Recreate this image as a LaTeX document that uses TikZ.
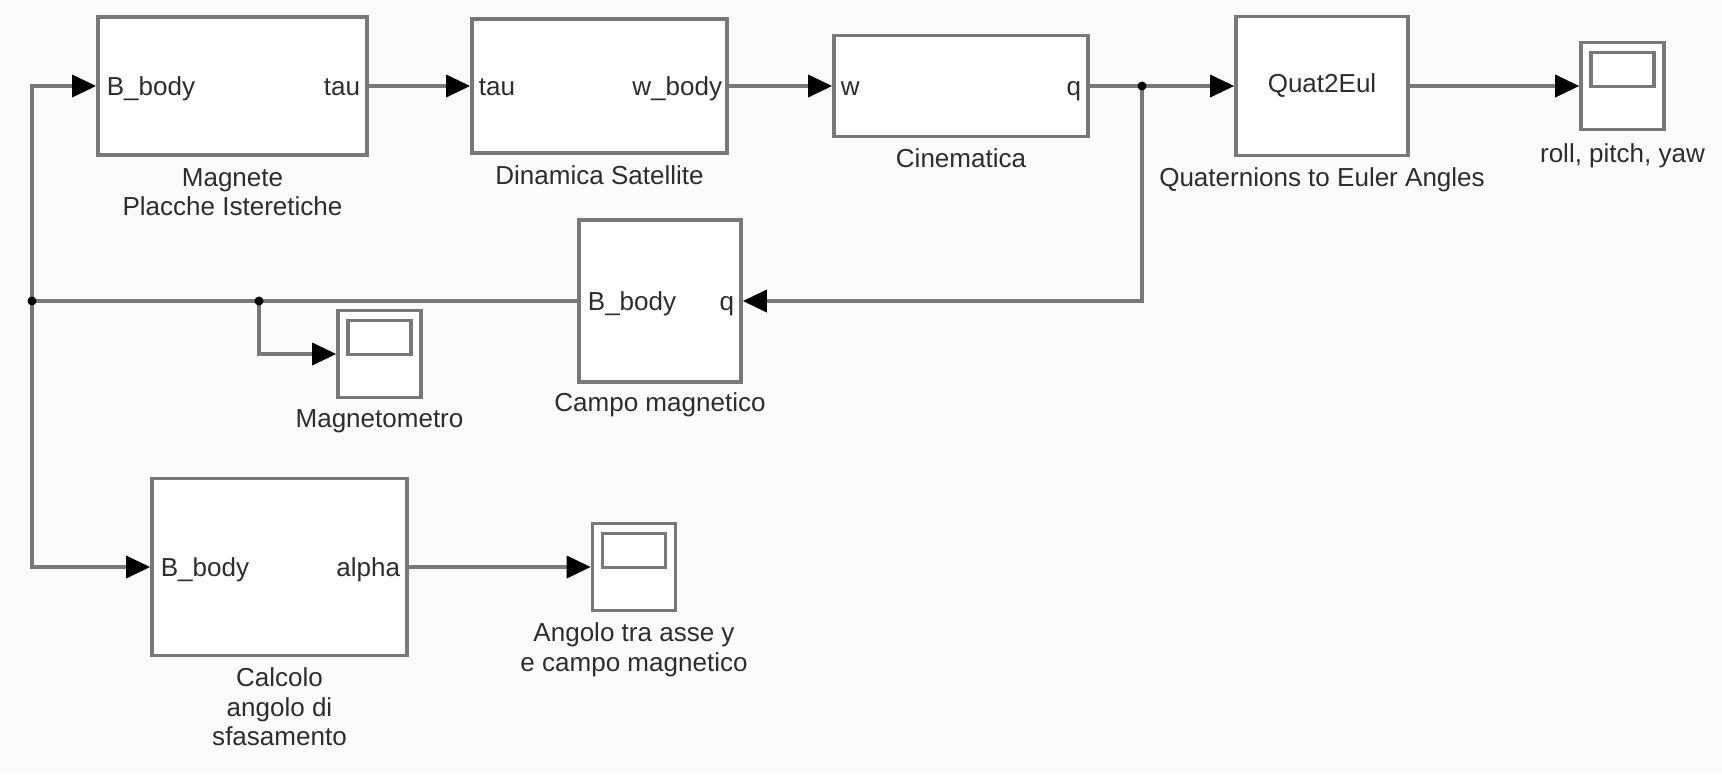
\documentclass[tikz,border=0pt]{standalone}
\usepackage{fontspec}
\setmainfont{Liberation Sans}
\usetikzlibrary{arrows.meta, positioning}
\definecolor{wiregray}{RGB}{120,120,120}
\definecolor{sheetbg}{RGB}{251,251,251}
\definecolor{inkgray}{RGB}{45,45,45}

\begin{document}
\begin{tikzpicture}[
    x=0.01cm, y=-0.01cm,
    font=\fontsize{7.4}{8.3}\selectfont,
    block/.style={rectangle, draw=wiregray, line width=1pt, fill=white, inner sep=0pt},
    scopebox/.style={block, minimum width=0.83cm, minimum height=0.87cm,
        path picture={\draw[wiregray, line width=1pt]
            ([shift={(0.1cm,-0.1cm)}]path picture bounding box.north west)
            rectangle ([shift={(-0.1cm,-0.44cm)}]path picture bounding box.north east);}},
    caption/.style={align=center, inner sep=0pt, text=inkgray},
    port/.style={inner sep=0pt, text=inkgray},
    sig/.style={draw=wiregray, line width=1pt},
    arr/.style={sig, -{Triangle[length=0.24cm, width=0.22cm, color=black]}}
]
    \useasboundingbox (0,0) rectangle (1722,775);
    \fill[sheetbg] (0,0) rectangle (1722,775);

    % Blocks
    \node[block, minimum width=2.69cm, minimum height=1.38cm] (magnete) at (232.5,86) {};
    \node[block, minimum width=2.55cm, minimum height=1.34cm] (dinamica) at (599.5,86) {};
    \node[block, minimum width=2.54cm, minimum height=1.01cm] (cinematica) at (961,86) {};
    \node[block, minimum width=1.72cm, minimum height=1.39cm, text=inkgray] (quat) at (1322,86) {Quat2Eul};
    \node[scopebox] (rpy) at (1622.5,86) {};
    \node[block, minimum width=1.62cm, minimum height=1.62cm] (campo) at (660,301) {};
    \node[scopebox] (magscope) at (379.5,354) {};
    \node[block, minimum width=2.55cm, minimum height=1.77cm] (calcolo) at (279.5,567) {};
    \node[scopebox] (angscope) at (634,567) {};

    % Port names
    \node[port, anchor=mid west] (magnete-in) at ([xshift=0.1cm]magnete.west) {B\_body};
    \node[port, anchor=mid east] (magnete-out) at ([xshift=-0.08cm]magnete.east) {tau};
    \node[port, anchor=mid west] (dinamica-in) at ([xshift=0.08cm]dinamica.west) {tau};
    \node[port, anchor=mid east] (dinamica-out) at ([xshift=-0.06cm]dinamica.east) {w\_body};
    \node[port, anchor=mid west] (cinematica-in) at ([xshift=0.08cm]cinematica.west) {w};
    \node[port, anchor=mid east] (cinematica-out) at ([xshift=-0.08cm]cinematica.east) {q};
    \node[port, anchor=mid west] (campo-out) at ([xshift=0.1cm]campo.west) {B\_body};
    \node[port, anchor=mid east] (campo-in) at ([xshift=-0.08cm]campo.east) {q};
    \node[port, anchor=mid west] (calcolo-in) at ([xshift=0.1cm]calcolo.west) {B\_body};
    \node[port, anchor=mid east] (calcolo-out) at ([xshift=-0.08cm]calcolo.east) {alpha};

    % Captions
    \node[caption, below=0.11cm of magnete] (magnete-cap) {Magnete\\Placche Isteretiche};
    \node[caption, below=0.1cm of dinamica] (dinamica-cap) {Dinamica Satellite};
    \node[caption, below=0.1cm of cinematica] (cinematica-cap) {Cinematica};
    \node[caption, below=0.1cm of quat] (quat-cap) {Quaternions to Euler Angles};
    \node[caption, below=0.12cm of rpy] (rpy-cap) {roll, pitch, yaw};
    \node[caption, below=0.08cm of campo] (campo-cap) {Campo magnetico};
    \node[caption, below=0.1cm of magscope] (magscope-cap) {Magnetometro};
    \node[caption, below=0.1cm of calcolo] (calcolo-cap) {Calcolo\\angolo di\\sfasamento};
    \node[caption, below=0.1cm of angscope] (angscope-cap) {Angolo tra asse y\\e campo magnetico};

    % Branch points
    \coordinate (qsplit) at (1142,86);
    \coordinate (bus) at (32,301);
    \coordinate (magsplit) at (259,301);

    % Signals
    \draw[arr] (magnete) -- (dinamica);
    \draw[arr] (dinamica) -- (cinematica);
    \draw[arr] (cinematica) -- (quat);
    \draw[arr] (quat) -- (rpy);
    \draw[arr] (qsplit) |- (campo);
    \draw[sig] (campo) -- (bus);
    \draw[arr] (bus) |- (magnete);
    \draw[arr] (bus) |- (calcolo);
    \draw[arr] (magsplit) |- (magscope);
    \draw[arr] (calcolo) -- (angscope);

    \fill (qsplit) circle (0.045cm);
    \fill (bus) circle (0.045cm);
    \fill (magsplit) circle (0.045cm);
\end{tikzpicture}
\end{document}
